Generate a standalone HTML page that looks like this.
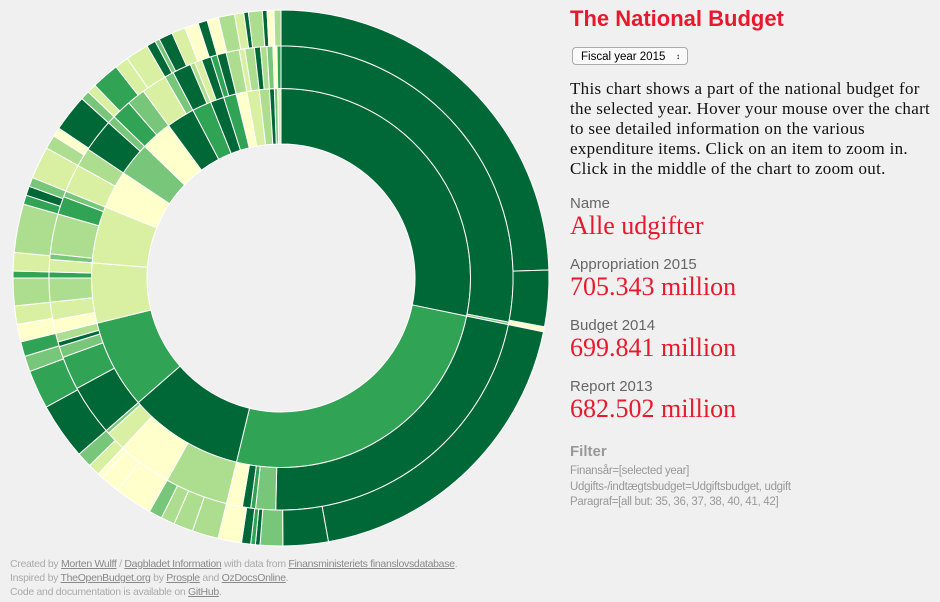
<!DOCTYPE html>
<html><head><meta charset="utf-8"><style>
body{margin:0;width:940px;height:602px;background:#f0f0f0;overflow:hidden;position:relative;font-family:"Liberation Sans",sans-serif}
.abs{position:absolute;margin:0;white-space:nowrap}
.lbl{font-size:15px;color:#666}
.val{font-family:"Liberation Serif",serif;font-size:26px;color:#e8192c}
.foot{font-size:10.5px;color:#aaa;letter-spacing:-0.3px}
.foot a{color:#888;text-decoration:underline}
</style></head><body>
<svg id="chart" width="560" height="560" style="position:absolute;left:0;top:0"></svg>
<h1 class="abs" style="left:570px;top:6px;font-size:22px;font-weight:bold;color:#e8192c">The National Budget</h1>
<div class="abs" style="left:572px;top:47px;width:116px;height:18px;border:1px solid #aaa;border-radius:4px;background:#fafafa;font-size:11.5px;line-height:18px;box-sizing:border-box;padding-left:8px">Fiscal year 2015<span style="position:absolute;right:7px;font-size:8px">&#8597;</span></div>
<p class="abs" style="left:570px;top:79px;font-family:'Liberation Serif',serif;font-size:17px;letter-spacing:0.3px;line-height:20px;color:#111">This chart shows a part of the national budget for<br>the selected year. Hover your mouse over the chart<br>to see detailed information on the various<br>expenditure items. Click on an item to zoom in.<br>Click in the middle of the chart to zoom out.</p>
<div class="abs lbl" style="left:570px;top:195px">Name</div>
<div class="abs val" style="left:570px;top:211px">Alle udgifter</div>
<div class="abs lbl" style="left:570px;top:256px">Appropriation 2015</div>
<div class="abs val" style="left:570px;top:272px">705.343 million</div>
<div class="abs lbl" style="left:570px;top:317px">Budget 2014</div>
<div class="abs val" style="left:570px;top:333px">699.841 million</div>
<div class="abs lbl" style="left:570px;top:378px">Report 2013</div>
<div class="abs val" style="left:570px;top:394px">682.502 million</div>
<div class="abs" style="left:570px;top:443px;font-size:15px;font-weight:bold;color:#999">Filter</div>
<div class="abs" style="left:570px;top:464px;font-size:11.5px;line-height:15.5px;color:#999;letter-spacing:-0.3px">Finansår=[selected year]<br>Udgifts-/indtægtsbudget=Udgiftsbudget, udgift<br>Paragraf=[all but: 35, 36, 37, 38, 40, 41, 42]</div>
<div class="abs foot" style="left:10px;top:557px;line-height:14px">Created by <a>Morten Wulff</a> / <a>Dagbladet Information</a> with data from <a>Finansministeriets finanslovsdatabase</a>.<br>Inspired by <a>TheOpenBudget.org</a> by <a>Prosple</a> and <a>OzDocsOnline</a>.<br>Code and documentation is available on <a>GitHub</a>.</div>
<script>
const palette=["#006837","#31a354","#78c679","#addd8e","#d9f0a3","#ffffcc"];
const level1Values=[101.6,92,35.3,27.3,18.4,17.4,11.7,10.3,9.6,8.7,5.9,4.2,3.9,3.3,3.8,3.1,1.5,1,1];
const level1Colors=[0,1,0,1,4,4,5,2,5,0,1,0,1,5,4,3,0,2,4];
const level2Values=[101,0.6,79.7,5,1.2,2.1,4,15.8,13.6,5,0.9,12.7,8.4,2.8,1.2,2.2,3.3,4.5,6,1.5,3.1,1.4,10,4.5,1.5,7,4.7,8.3,2,5,4.6,6.4,2.3,4.7,1.2,1.8,2.4,1.6,2.3,3.3,1.4,2.4,1.5,1.6,1.5,1,1];
const level2Colors=[0,2,0,2,1,0,5,3,5,4,2,0,1,2,0,3,5,4,3,1,4,2,3,1,2,4,3,0,2,1,2,4,2,0,3,4,0,1,0,3,4,3,0,3,2,5,1];
const level3Values=[88.3,12.2,1.1,68.2,9.8,4.9,1,1,2,5.1,5.7,4.2,3,2.9,8.2,4.2,1.2,2.6,3.3,12.3,8.4,3.4,3.2,3.8,4,6,1.5,4,10.5,2,2,2,7,3,2,8,2,2,6,3,5,2,1,3,3,3,2,2.5,3.5,2,1,3,1,1.5,1.5];
const level3Colors=[0,0,5,0,0,2,0,1,0,5,3,3,3,2,5,5,5,4,2,0,1,2,1,5,4,3,1,4,3,1,0,2,4,3,5,0,2,4,1,4,4,0,2,0,4,5,0,5,3,4,0,3,0,5,3];
const cx=281,cy=278,R=268,NS="http://www.w3.org/2000/svg";
const svg=document.getElementById('chart');
const total=level1Values.reduce((a,b)=>a+b,0);
function angle(v){return v/total*2*Math.PI;}
function radius(depth){return R*Math.sqrt(depth/4);}
function pt(a,r){return [cx+r*Math.sin(a),cy-r*Math.cos(a)];}
function arcPath(a0,a1,r0,r1){
 const large=(a1-a0)>Math.PI?1:0;
 const p0=pt(a0,r1),p1=pt(a1,r1),p2=pt(a1,r0),p3=pt(a0,r0);
 return `M${p0[0]},${p0[1]}A${r1},${r1} 0 ${large} 1 ${p1[0]},${p1[1]}L${p2[0]},${p2[1]}A${r0},${r0} 0 ${large} 0 ${p3[0]},${p3[1]}Z`;
}
function drawRing(values,colors,depth){
 let acc=0;
 values.forEach((v,i)=>{
  const a0=angle(acc);acc+=v;const a1=angle(acc);
  const p=document.createElementNS(NS,'path');
  p.setAttribute('d',arcPath(a0,a1,radius(depth),radius(depth+1)));
  p.setAttribute('fill',palette[colors[i]]);
  p.setAttribute('stroke','#fff');
  p.setAttribute('stroke-width','1');
  
  
  svg.appendChild(p);
 });
}
drawRing(level1Values,level1Colors,1);
drawRing(level2Values,level2Colors,2);
drawRing(level3Values,level3Colors,3);
</script>
</body></html>
